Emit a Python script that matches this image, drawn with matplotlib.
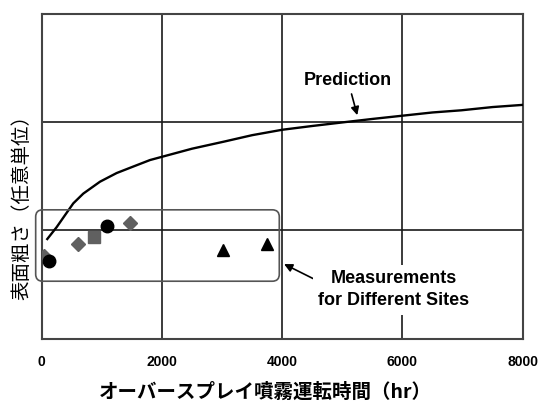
import matplotlib
matplotlib.use("Agg")
import matplotlib.pyplot as plt
from matplotlib.patches import FancyBboxPatch

# curva de prediccion
pred_x = [93, 249, 387, 526, 692, 970, 1247, 1523, 1801, 2000, 2500,
          3029, 3500, 4000, 4500, 5034, 5500, 6000, 6500, 6981, 7500, 8000]
pred_y = [0.92, 1.03, 1.14, 1.25, 1.34, 1.45, 1.53, 1.59, 1.65, 1.68, 1.755,
          1.82, 1.88, 1.93, 1.965, 2.00, 2.03, 2.06, 2.09, 2.11, 2.14, 2.16]

# mediciones por sitio
diam_x = [38, 609, 1469]
diam_y = [0.76, 0.87, 1.07]
circ_x = [127, 1091]
circ_y = [0.72, 1.04]
cuad_x = [865]
cuad_y = [0.94]
tri_x = [3021, 3753]
tri_y = [0.82, 0.87]

# recuadro de mediciones (coordenadas de datos)
caja_x = [-100, 3952]
caja_y = [0.53, 1.19]

xticks = [0, 2000, 4000, 6000, 8000]
yticks = [1, 2]

latin = ['Liberation Sans', 'DejaVu Sans']
cjk = ['Noto Sans CJK JP', 'DejaVu Sans']

fig = plt.figure(figsize=(5.4, 4.04), dpi=100)
ax = fig.add_axes([0.0772, 0.162, 0.8907, 0.8033])

ax.set_xlim(0, 8000)
ax.set_ylim(0, 3)
ax.set_xticks(xticks)
ax.set_yticks(yticks)
ax.set_yticklabels([])
ax.tick_params(length=0)
ax.tick_params(axis='x', pad=12)
for lab in ax.get_xticklabels():
    lab.set_family(latin)
    lab.set_fontweight('bold')
    lab.set_fontsize(10)
ax.grid(True, color='#1a1a1a', linewidth=1.2)
ax.set_axisbelow(True)
for s in ax.spines.values():
    s.set_color('#444444')
    s.set_linewidth(1.5)

ax.plot(pred_x, pred_y, color='black', linewidth=1.7, zorder=3)

ax.plot(diam_x, diam_y, 'D', color='#606060', markersize=7, zorder=4)
ax.plot(circ_x, circ_y, 'o', color='black', markersize=9, zorder=4)
ax.plot(cuad_x, cuad_y, 's', color='#606060', markersize=9, zorder=4)
ax.plot(tri_x, tri_y, '^', color='black', markersize=9, zorder=4)

# recuadro redondeado en coordenadas de ejes
x0 = caja_x[0] / 8000
x1 = caja_x[1] / 8000
y0 = caja_y[0] / 3
y1 = caja_y[1] / 3
bb = ax.get_window_extent()
caja = FancyBboxPatch((x0, y0), x1 - x0, y1 - y0,
                      boxstyle='round,pad=0,rounding_size=%f' % (7 / bb.width),
                      mutation_aspect=bb.width / bb.height,
                      transform=ax.transAxes,
                      facecolor='none', edgecolor='#555555', linewidth=1.2,
                      clip_on=False, zorder=5)
ax.add_patch(caja)

ax.annotate('Prediction', xy=(5261, 2.04), xytext=(5091, 2.39),
            ha='center', va='center', fontsize=13, fontweight='bold', family=latin,
            arrowprops=dict(arrowstyle='-|>', color='black', lw=1.2, mutation_scale=12))

ax.annotate('Measurements\nfor Different Sites', xy=(3990, 0.70), xytext=(5860, 0.45),
            ha='center', va='center', fontsize=13, fontweight='bold', family=latin,
            linespacing=1.4,
            bbox=dict(boxstyle='square,pad=0.3', facecolor='white', edgecolor='none'),
            arrowprops=dict(arrowstyle='-|>', color='black', lw=1.2, mutation_scale=12,
                            shrinkA=0, relpos=(0.0, 0.72)))

ax.set_xlabel('オーバースプレイ噴霧運転時間（hr）', family=cjk, fontsize=14, fontweight='bold')
ax.xaxis.set_label_coords(0.464, -0.135)
ax.set_ylabel('表面粗さ（任意単位）', family=cjk, fontsize=14)
ax.yaxis.set_label_coords(-0.02, 0.418)

fig.savefig('out.png', dpi=100)
